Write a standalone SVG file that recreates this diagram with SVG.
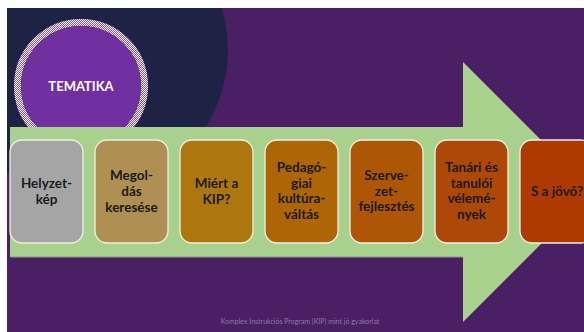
<svg xmlns="http://www.w3.org/2000/svg" width="584" height="332" viewBox="0 0 584 332">
<defs>
<clipPath id="slide"><rect x="7" y="8" width="577" height="324"/></clipPath>
<pattern id="checker" patternUnits="userSpaceOnUse" width="2" height="2">
<rect width="2" height="2" fill="#8A4FC0"/>
<rect width="1" height="1" fill="#ffffff"/>
<rect x="1" y="1" width="1" height="1" fill="#ffffff"/>
</pattern>
<style>
.box{stroke:#F2EEE6;stroke-width:1.3}
.lbl{font-family:Lato,"Open Sans","Liberation Sans",sans-serif;font-weight:bold;font-size:13.5px;fill:#1A1A1A;text-anchor:middle}
</style>
</defs>
<rect width="584" height="332" fill="#ffffff"/>
<g clip-path="url(#slide)">
<rect x="7" y="8" width="577" height="324" fill="#4A1F63"/>
<circle cx="84" cy="50" r="144" fill="#1E2345"/>
<g id="tematika">
<circle cx="81" cy="86" r="63.5" fill="none" stroke="url(#checker)" stroke-width="7"/>
<circle cx="81" cy="86" r="60" fill="#7030A0"/>
<text x="81" y="91" font-family="Lato,'Open Sans','Liberation Sans',sans-serif" font-weight="bold" font-size="13px" fill="#ffffff" text-anchor="middle">TEMATIKA</text>
</g>
<g id="connectors">
<path d="M10,127 H463 V62 L593,192 L463,322 V257 H10 Z" fill="#A9D18E"/>
<path d="M10,257 H463" stroke="#8E9A8A" stroke-width="1" fill="none"/>
</g>
<g id="n1"><rect class="box" x="10" y="140" width="73" height="103" rx="12" fill="#A5A5A5"/>
<text class="lbl" x="46.5" y="188">Helyzet-<tspan x="46.5" dy="16">kép</tspan></text></g>
<g id="n2"><rect class="box" x="95" y="140" width="73" height="103" rx="12" fill="#AF8F52"/>
<text class="lbl" x="131.5" y="180">Megol-<tspan x="131.5" dy="16">dás</tspan><tspan x="131.5" dy="16">keresése</tspan></text></g>
<g id="n3"><rect class="box" x="180" y="140" width="73" height="103" rx="12" fill="#AD770D"/>
<text class="lbl" x="216.5" y="188">Miért a<tspan x="216.5" dy="16">KIP?</tspan></text></g>
<g id="n4"><rect class="box" x="265" y="140" width="73" height="103" rx="12" fill="#AE6506"/>
<text class="lbl" x="301.5" y="172">Pedagó-<tspan x="301.5" dy="15.7">giai</tspan><tspan x="301.5" dy="15.7">kultúra-</tspan><tspan x="301.5" dy="15.7">váltás</tspan></text></g>
<g id="n5"><rect class="box" x="350" y="140" width="73" height="103" rx="12" fill="#AE5606"/>
<text class="lbl" x="386.5" y="180">Szerve-<tspan x="386.5" dy="15.7">zet-</tspan><tspan x="386.5" dy="15.7">fejlesztés</tspan></text></g>
<g id="n6"><rect class="box" x="435" y="140" width="73" height="103" rx="12" fill="#AE4806"/>
<text class="lbl" x="471.5" y="172">Tanári és<tspan x="471.5" dy="15.7">tanulói</tspan><tspan x="471.5" dy="15.7">vélemé-</tspan><tspan x="471.5" dy="15.7">nyek</tspan></text></g>
<g id="n7"><rect class="box" x="520" y="140" width="73" height="103" rx="12" fill="#AE3A02"/>
<text class="lbl" x="557" y="196">S a jövő?</text></g>
<text x="300" y="324" font-family="Lato,'Open Sans','Liberation Sans',sans-serif" font-size="7px" fill="#8E7AA0" text-anchor="middle">Komplex Instrukciós Program (KIP) mint jó gyakorlat</text>
</g>
</svg>
